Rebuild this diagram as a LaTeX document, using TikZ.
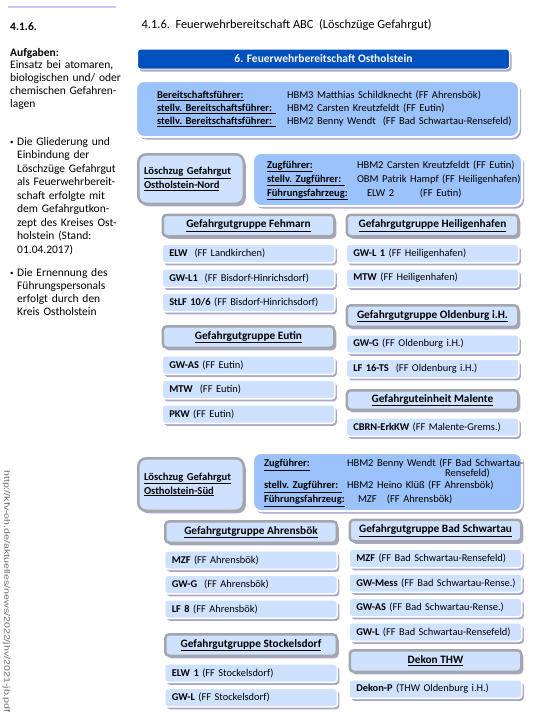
\documentclass[tikz,border=0pt]{standalone}
\usepackage{fontspec}
\setmainfont{Carlito}
\newfontfamily\urlfont{Liberation Sans}
\usepackage{graphicx}
\usepackage{xcolor}
\definecolor{darkbar}{RGB}{0,80,190}
\definecolor{midblue}{RGB}{155,194,250}
\definecolor{paleblue}{RGB}{206,225,255}
\definecolor{framegray}{RGB}{165,165,172}
\definecolor{shadowgray}{RGB}{160,158,195}
\definecolor{sideline}{RGB}{200,200,245}
\usetikzlibrary{positioning,shadows}
\AtBeginDocument{\fontsize{10.5}{13}\selectfont}

\begin{document}
\begin{tikzpicture}[x=1pt,y=-1pt,
  shad/.style={drop shadow={shadow xshift=2pt,shadow yshift=-2.5pt,fill=shadowgray,opacity=.9}},
  bar/.style={rectangle,rounded corners=3pt,draw=white,line width=1pt,fill=darkbar,
              minimum width=372pt,minimum height=20pt,text=white,
              font=\fontsize{11.5}{13}\selectfont\bfseries,shad},
  lead/.style={rectangle,rounded corners=8pt,draw=white,line width=2pt,fill=midblue,
               align=left,shad},
  zug/.style={rectangle,rounded corners=8pt,draw=framegray,line width=2.5pt,fill=paleblue,
              text width=94pt,inner xsep=5.75pt,align=left,
              font=\fontsize{10.6}{14}\selectfont\bfseries,shad},
  grp/.style={rectangle,rounded corners=4pt,draw=framegray,line width=2.5pt,fill=paleblue,
              minimum width=171.5pt,minimum height=21.5pt,outer sep=0pt,
              font=\fontsize{11.3}{13}\selectfont\bfseries,shad},
  veh/.style={rectangle,rounded corners=3pt,draw=white,line width=1.5pt,fill=paleblue,
              text width=158.5pt,inner xsep=7pt,minimum height=18.5pt,outer sep=0pt,align=left,
              font=\fontsize{10.4}{12}\selectfont,shad},
  side/.style={anchor=base west,align=left,text width=122pt,inner sep=0pt}
]
\useasboundingbox (0,0) rectangle (533,718);

% sidebar
\draw[sideline,line width=2pt] (8,7.3) -- (116,7.3);
\node[side,font=\fontsize{11.5}{13}\selectfont] (secno) at (10,30) {\textbf{4.1.6.}};
\node[side,font=\fontsize{11.5}{12.8}\selectfont] (tasks) at (10,56)
  {\textbf{Aufgaben:}\\Einsatz bei atomaren,\\biologischen und/ oder\\chemischen Gefahren-\\lagen};
\node[side,font=\fontsize{11.5}{13.5}\selectfont] (bul1) at (10,145)
  {\makebox[7pt][l]{\raisebox{.8pt}{\fontsize{7}{7}\selectfont\textbullet}}Die Gliederung und\\
   \hspace*{7pt}Einbindung der\\\hspace*{7pt}Löschzüge Gefahrgut\\
   \hspace*{7pt}als Feuerwehrbereit-\\\hspace*{7pt}schaft erfolgte mit\\
   \hspace*{7pt}dem Gefahrgutkon-\\\hspace*{7pt}zept des Kreises Ost-\\
   \hspace*{7pt}holstein (Stand:\\\hspace*{7pt}01.04.2017)};
\node[side,font=\fontsize{11.5}{13.2}\selectfont] (bul2) at (10,276)
  {\makebox[7pt][l]{\raisebox{.8pt}{\fontsize{7}{7}\selectfont\textbullet}}Die Ernennung des\\
   \hspace*{7pt}Führungspersonals\\\hspace*{7pt}erfolgt durch den\\\hspace*{7pt}Kreis Ostholstein};
\node[rotate=-90,anchor=west,inner sep=0pt,text=gray!85!black] (url) at (6.5,470)
  {\urlfont\fontsize{8}{9}\selectfont\scalebox{1.33}[1]{http://kfv-oh.de/aktuelles/news/2022/jhv/2021-jb.pdf}};

% head
\node[anchor=base west,font=\fontsize{12.4}{14}\selectfont] (title) at (138,28)
  {4.1.6.\ \ Feuerwehrbereitschaft ABC\ \ (Löschzüge Gefahrgut)};
\node[bar] (fb) at (323.5,59) {6. Feuerwehrbereitschaft Ostholstein};
\node[lead,text width=341pt,inner xsep=21pt,minimum height=56pt] (leit) at (327.5,109)
  {\begin{tabular}{@{}p{130pt}@{}l@{}}
   \textbf{\underline{Bereitschaftsführer:}} & HBM3 Matthias Schildknecht (FF Ahrensbök)\\
   \textbf{\underline{stellv.\ Bereitschaftsführer:\ }} & HBM2 Carsten Kreutzfeldt (FF Eutin)\\
   \textbf{\underline{stellv.\ Bereitschaftsführer:\ }} & HBM2 Benny Wendt\ \ (FF Bad Schwartau-Rensefeld)
   \end{tabular}};

% Loeschzug Nord
\node[zug,minimum height=49.5pt] (lzN) at (191,179)
  {\underline{Löschzug Gefahrgut}\\\underline{Ostholstein-Nord}};
\node[lead,text width=241pt,inner xsep=14pt,minimum height=53pt,
      font=\fontsize{10.5}{14}\selectfont] (fN) at (387.5,179.5)
  {\begin{tabular}{@{}p{90pt}@{}l@{}}
   \textbf{\underline{Zugführer:}} & HBM2 Carsten Kreutzfeldt (FF Eutin)\\
   \textbf{\underline{stellv.\ Zugführer:\ }} & OBM Patrik Hampf (FF Heiligenhafen)\\
   \textbf{\underline{Führungsfahrzeug:}} & \hspace*{10pt}\makebox[53pt][l]{ELW 2}(FF Eutin)
   \end{tabular}};

\node[grp] (gFeh) at (248.5,225.5) {\underline{Gefahrgutgruppe Fehmarn}};
\node[veh,below=8pt of gFeh] (vFeh1) {\textbf{ELW}\ \ (FF Landkirchen)};
\node[veh,below=6pt of vFeh1] (vFeh2) {\textbf{GW-L1}\ \ (FF Bisdorf-Hinrichsdorf)};
\node[veh,below=6pt of vFeh2] (vFeh3) {\textbf{StLF 10/6} (FF Bisdorf-Hinrichsdorf)};

\node[grp] (gEut) at (248.5,337) {\underline{Gefahrgutgruppe Eutin}};
\node[veh,below=8pt of gEut] (vEut1) {\textbf{GW-AS} (FF Eutin)};
\node[veh,below=6pt of vEut1] (vEut2) {\textbf{MTW}\ \ (FF Eutin)};
\node[veh,below=6pt of vEut2] (vEut3) {\textbf{PKW} (FF Eutin)};

\node[grp] (gHei) at (432.5,225.5) {\underline{Gefahrgutgruppe Heiligenhafen}};
\node[veh,below=8pt of gHei] (vHei1) {\textbf{GW-L 1} (FF Heiligenhafen)};
\node[veh,below=6pt of vHei1] (vHei2) {\textbf{MTW} (FF Heiligenhafen)};

\node[grp] (gOld) at (432.5,316) {\underline{Gefahrgutgruppe Oldenburg i.H.}};
\node[veh,below=8pt of gOld] (vOld1) {\textbf{GW-G} (FF Oldenburg i.H.)};
\node[veh,below=6pt of vOld1] (vOld2) {\textbf{LF 16-TS}\ \ (FF Oldenburg i.H.)};

\node[grp,minimum height=19.5pt] (gMal) at (432.5,400) {\underline{Gefahrguteinheit Malente}};
\node[veh,below=8pt of gMal] (vMal1) {\textbf{CBRN-ErkKW} (FF Malente-Grems.)};

% Loeschzug Sued
\node[zug,minimum height=52.5pt,font=\fontsize{10.6}{13.7}\selectfont\bfseries] (lzS) at (191,484.5)
  {\underline{Löschzug Gefahrgut}\\\underline{Ostholstein-Süd}};
\node[lead,text width=247pt,inner xsep=11pt,minimum height=58pt] (fS) at (387.5,482)
  {\begin{tabular}{@{}p{83pt}@{}l@{}}
   \textbf{\underline{Zugführer:}} & HBM2 Benny Wendt (FF Bad Schwartau-\\[-3pt]
   & \hspace*{98pt}Rensefeld)\\[-1pt]
   \textbf{\underline{stellv.\ Zugführer:\ }} & HBM2 Heino Klüß (FF Ahrensbök)\\[1pt]
   \textbf{\underline{Führungsfahrzeug:}} & \hspace*{11pt}\makebox[29pt][l]{MZF}(FF Ahrensbök)
   \end{tabular}};

\node[grp] (gAhr) at (251,532) {\underline{Gefahrgutgruppe Ahrensbök}};
\node[veh,below=8pt of gAhr] (vAhr1) {\textbf{MZF} (FF Ahrensbök)};
\node[veh,below=6pt of vAhr1] (vAhr2) {\textbf{GW-G}\ \ (FF Ahrensbök)};
\node[veh,below=6pt of vAhr2] (vAhr3) {\textbf{LF 8} (FF Ahrensbök)};

\node[grp] (gSto) at (251,645) {\underline{Gefahrgutgruppe Stockelsdorf}};
\node[veh,below=8pt of gSto] (vSto1) {\textbf{ELW 1} (FF Stockelsdorf)};
\node[veh,below=6pt of vSto1] (vSto2) {\textbf{GW-L} (FF Stockelsdorf)};

\node[grp] (gBad) at (435.5,530.5) {\underline{Gefahrgutgruppe Bad Schwartau}};
\node[veh,below=8pt of gBad] (vBad1) {\textbf{MZF} (FF Bad Schwartau-Rensefeld)};
\node[veh,below=6pt of vBad1] (vBad2) {\mbox{\textbf{GW-Mess} (FF Bad Schwartau-Rense.)}};
\node[veh,below=6pt of vBad2] (vBad3) {\textbf{GW-AS} (FF Bad Schwartau-Rense.)};
\node[veh,below=6pt of vBad3] (vBad4) {\textbf{GW-L} (FF Bad Schwartau-Rensefeld)};

\node[grp] (gDek) at (435.5,661) {\underline{Dekon THW}};
\node[veh,below=8pt of gDek] (vDek1) {\textbf{Dekon-P} (THW Oldenburg i.H.)};
\end{tikzpicture}
\end{document}
